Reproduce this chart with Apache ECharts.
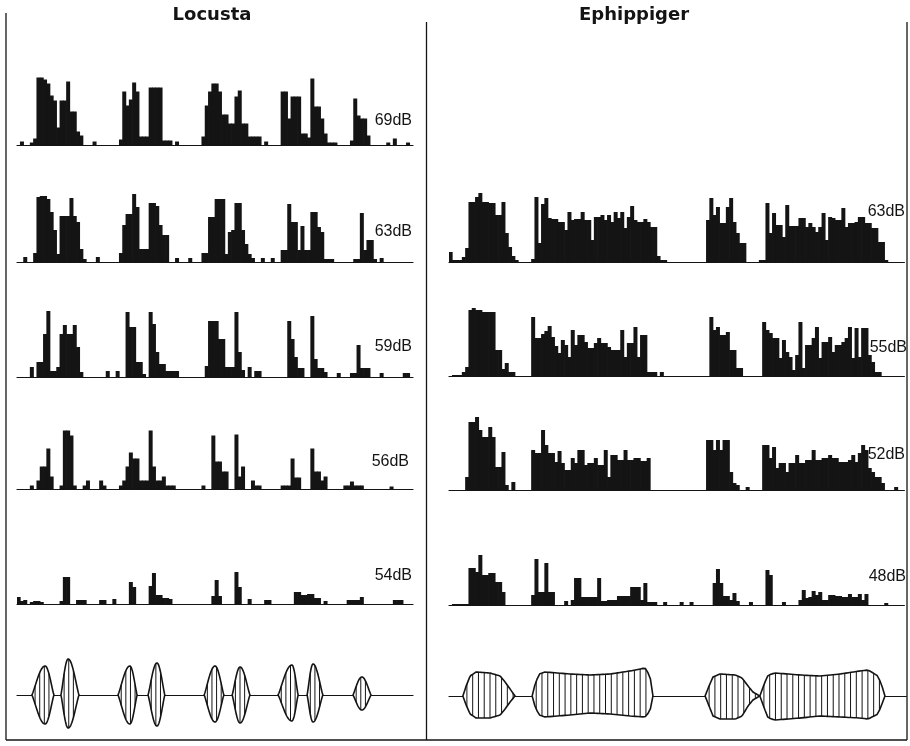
<!DOCTYPE html>
<html>
<head>
<meta charset="utf-8">
<script src="https://cdn.jsdelivr.net/npm/echarts@6/dist/echarts.min.js"></script>
<style>
  html, body { margin: 0; padding: 0; background: #fff; }
  #chart { width: 910px; height: 746px; }
</style>
</head>
<body>
<div id="chart"></div>
<script>
// Species and stimulus intensities
const speciesNames = ['Locusta', 'Ephippiger'];
const locustaLevels = ['69dB', '63dB', '59dB', '56dB', '54dB'];
const ephippigerLevels = ['63dB', '55dB', '52dB', '48dB'];

// Locusta song: response histograms, 120 bins per sweep
const locusta69 = [
  0,4,0,0,3,7,68,68,66,62,50,45,18,45,45,64,34,34,14,10,
  0,0,0,4,0,0,0,0,0,0,0,6,54,40,46,63,54,9,9,9,
  58,58,58,58,5,5,5,0,4,0,0,0,0,0,0,0,9,40,54,62,
  62,54,31,31,22,22,49,55,22,22,9,9,9,9,0,4,0,0,0,0,
  54,54,27,49,49,49,12,12,8,67,39,39,27,12,3,3,3,0,0,0,
  0,5,47,30,27,27,10,0,0,0,0,0,3,0,7,0,0,0,3,0
];
const locusta63 = [
  0,0,5,0,0,9,65,66,66,63,50,32,8,46,46,46,64,46,40,13,
  3,0,0,0,5,0,0,0,0,0,0,9,37,48,48,68,55,13,13,13,
  59,59,56,37,27,27,0,0,4,0,0,0,4,0,0,0,9,9,45,45,
  63,63,63,8,30,32,59,59,32,18,8,4,0,0,4,0,0,4,0,0,
  12,12,58,40,40,12,36,12,12,50,50,35,30,3,3,3,0,0,0,0,
  0,0,3,3,49,12,22,22,3,0,4,0,0,0,0,0,0,0,0,0
];
const locusta59 = [
  0,0,0,0,10,0,15,15,43,66,6,6,10,43,52,43,43,52,30,5,
  0,0,0,0,0,0,0,6,0,0,6,0,0,65,50,50,15,15,3,0,
  65,53,25,13,13,6,6,6,6,0,0,0,0,0,0,0,0,11,56,56,
  56,38,38,10,10,10,65,25,7,0,10,0,6,6,0,0,0,0,0,0,
  0,0,56,38,20,9,9,0,0,61,18,9,9,5,0,0,0,4,0,0,
  0,4,4,32,9,9,9,0,0,0,4,0,0,0,0,0,0,4,4,0
];
const locusta56 = [
  0,0,0,0,4,0,9,23,23,41,13,0,0,4,59,59,54,4,0,0,
  4,9,0,0,0,9,4,0,0,0,0,4,9,23,37,31,31,9,9,9,
  59,23,9,9,13,4,4,4,0,0,0,0,0,0,0,0,4,0,0,54,
  28,28,18,18,0,0,55,13,23,0,0,9,4,4,0,0,0,0,0,0,
  4,4,4,31,12,12,0,0,0,41,18,18,9,13,0,0,0,0,0,4,
  4,8,4,4,4,0,0,0,0,0,0,0,0,3,0,0,0,0,0,0
];
const locusta54 = [
  7,3,4,0,2,3,3,2,0,0,0,0,0,3,27,27,0,0,4,4,
  4,0,0,0,0,4,4,0,0,5,0,0,0,0,22,17,0,0,0,0,
  18,31,9,9,6,6,5,0,0,0,0,0,0,0,0,0,0,0,0,8,
  24,8,0,0,0,0,32,17,0,0,5,0,0,0,0,4,4,0,0,0,
  0,0,0,0,12,12,9,9,10,10,6,6,0,3,0,0,0,0,0,0,
  4,4,4,4,7,0,0,0,0,0,0,0,0,0,4,4,4,0,0,0
];

// Ephippiger song: response histograms, 138 bins per sweep
const ephippiger63 = [
  10,2,2,2,5,14,60,60,65,69,60,60,59,59,47,47,60,29,15,6,
  2,0,0,0,0,3,65,19,58,64,44,43,43,40,40,32,50,42,43,43,
  50,42,42,22,45,45,47,42,47,40,50,44,50,34,45,56,42,40,40,43,
  40,35,35,6,2,2,0,0,0,0,0,0,0,0,0,0,0,0,42,64,
  47,55,39,39,55,64,40,29,19,19,0,0,0,0,2,2,59,29,49,37,
  37,25,57,36,36,36,44,44,35,39,35,30,35,49,22,45,44,42,42,54,
  35,39,39,40,45,45,39,39,34,34,20,20,2,0,0,0,0,0
];
const ephippiger55 = [
  0,1,1,1,4,9,66,68,66,66,64,64,64,64,26,26,7,13,4,4,
  0,0,0,0,0,59,38,38,42,45,50,39,30,23,36,31,19,46,31,41,
  41,34,28,28,33,38,33,33,29,26,26,26,46,19,33,33,49,19,41,41,
  4,4,4,0,4,0,0,0,0,0,0,0,0,0,0,0,0,0,0,59,
  46,49,41,41,44,26,26,8,8,0,0,0,0,0,0,54,46,43,38,38,
  18,36,24,19,6,21,54,8,31,31,38,49,18,34,34,39,24,31,31,34,
  38,49,18,48,19,48,48,21,14,4,4,0,0,0,0,0,0,0
];
const ephippiger52 = [
  0,0,0,0,0,13,68,68,73,60,53,53,63,53,23,23,38,5,0,8,
  0,0,0,0,0,40,37,37,60,45,37,37,28,39,27,20,20,32,27,40,
  40,25,27,27,32,25,25,40,13,35,35,30,30,40,30,30,32,32,29,29,
  32,0,0,0,0,0,0,0,0,0,0,0,0,0,0,0,0,0,50,50,
  40,50,40,50,50,18,7,5,0,0,3,0,0,0,0,45,45,32,43,22,
  27,27,18,27,27,35,27,27,30,30,40,30,30,32,32,35,32,32,28,28,
  28,30,35,28,37,45,40,22,18,13,13,7,0,0,0,3,0,0
];
const ephippiger48 = [
  0,1,1,1,1,1,37,37,33,50,30,30,32,32,23,23,13,0,0,0,
  0,0,0,0,0,10,46,13,13,42,13,13,0,0,0,4,0,5,27,27,
  8,8,8,8,8,27,4,4,5,5,5,9,9,9,9,18,18,18,5,22,
  3,3,3,0,0,3,0,0,0,0,3,0,0,3,0,0,0,0,0,0,
  22,36,22,9,9,5,12,4,0,0,0,3,0,0,0,0,35,30,0,0,
  0,3,0,0,0,0,5,15,7,8,14,10,13,5,5,10,10,9,9,8,
  8,11,8,8,11,5,11,0,0,0,0,0,2,0,0,0,0,0
];

// Locusta syllables (time in bins): [start, peak, end, upper amplitude, lower amplitude]
const locustaSyllables = [
  [4.5, 8.5, 11.2, 29, 29],
  [13.3, 15.5, 18.8, 36, 33],
  [30.6, 34.2, 36.4, 29, 29],
  [39.7, 42.4, 44.8, 32, 31],
  [56.7, 60.0, 62.7, 29, 27],
  [65.2, 67.6, 70.6, 28, 28],
  [79.1, 83.3, 85.2, 30, 26],
  [87.9, 89.7, 92.7, 31, 27],
  [101.8, 104.5, 107.3, 18, 15]
];

// Ephippiger syllable envelopes: [time (bins), upper amplitude, lower amplitude]
const ephippigerSyllable1 = [[4.2,0,0],[5.2,10,9],[6.4,20,18],[8.2,24,22],[12.4,23,22],[15.5,20,19],[17,14,13],[18.5,7,6],[20,0,0]];
const ephippigerSyllable2 = [[25.2,0,0],[26.1,12,11],[27.3,22,19],[29.1,24,21],[36.7,22,19],[42.7,21,17],[48.8,22,18],[54.8,25,20],[59.4,28,21],[60.9,20,15],[61.8,0,0]];
const ephippigerSyllable3 = [[77.6,0,0],[78.8,10,10],[80,19,20],[82.1,22,23],[86.7,21,23],[88.8,18,20],[90.6,10,10],[92.1,4,4],[94.2,0,0]];
const ephippigerSyllable4 = [[94.2,0,0],[95.5,12,12],[96.7,21,22],[98.8,23,24],[106.4,21,22],[112.4,20,20],[118.5,22,21],[124.5,25,22],[127,26,23],[130,20,18],[131.2,10,8],[132.1,0,0]];

// ---------------------------------------------------------------------------
const INK = '#141414';
const ROW_H = 80;
const panels = {
  left:  { x: 17,  w: 396,   bins: 120, envW: 396,   envMax: 120 },
  right: { x: 449, w: 455.4, bins: 138, envW: 457.4, envMax: 138.6 }
};
const locustaBaselines = [145.5, 262, 377, 489.5, 604];
const ephippigerBaselines = [262, 376, 490, 605];
const envelopeCentre = [695, 696];

const grids = [], xAxes = [], yAxes = [], series = [];

function histogramRow(values, panel, base) {
  const gi = grids.length;
  grids.push({ left: panel.x, top: base - ROW_H, width: panel.w, height: ROW_H });
  xAxes.push({
    gridIndex: gi, type: 'category', boundaryGap: true,
    data: values.map((_, i) => i),
    axisLine: { show: true, lineStyle: { color: INK, width: 1.2 } },
    axisTick: { show: false }, axisLabel: { show: false }, splitLine: { show: false }
  });
  yAxes.push({ gridIndex: gi, type: 'value', min: 0, max: ROW_H, show: false });
  // bars slightly wider than a bin so neighbouring bins merge into solid blocks
  series.push({
    type: 'bar', xAxisIndex: gi, yAxisIndex: gi, data: values,
    barWidth: (panel.w / panel.bins) + 0.7, barGap: '-100%', silent: true,
    itemStyle: { color: INK }
  });
}

function envelopeGrid(panel, centre) {
  const gi = grids.length;
  grids.push({ left: panel.x, top: centre - 50, width: panel.envW, height: 100 });
  xAxes.push({
    gridIndex: gi, type: 'value', min: 0, max: panel.envMax,
    axisLine: { show: true, onZero: true, lineStyle: { color: INK, width: 1.2 } },
    axisTick: { show: false }, axisLabel: { show: false }, splitLine: { show: false }
  });
  yAxes.push({ gridIndex: gi, type: 'value', min: -50, max: 50, show: false });
  return gi;
}

// Draws one hatched syllable from an amplitude function
function hatchedShape(api, t0, t1, upper, lower, hatchStep) {
  const N = 48;
  const top = [], bottom = [];
  for (let k = 0; k <= N; k++) {
    const t = t0 + (t1 - t0) * k / N;
    top.push(api.coord([t, upper(t)]));
    bottom.push(api.coord([t, -lower(t)]));
  }
  const children = [{
    type: 'polygon',
    shape: { points: top.concat(bottom.reverse()) },
    style: { fill: '#fff', stroke: INK, lineWidth: 1.6 }
  }];
  for (let t = t0 + hatchStep * 0.7; t < t1 - hatchStep * 0.3; t += hatchStep) {
    const a = api.coord([t, upper(t)]);
    const b = api.coord([t, -lower(t)]);
    children.push({
      type: 'line',
      shape: { x1: a[0], y1: a[1], x2: b[0], y2: b[1] },
      style: { stroke: INK, lineWidth: 1 }
    });
  }
  return { type: 'group', children };
}

// Locusta histograms
[locusta69, locusta63, locusta59, locusta56, locusta54].forEach((values, i) => {
  histogramRow(values, panels.left, locustaBaselines[i]);
});
// Ephippiger histograms
[ephippiger63, ephippiger55, ephippiger52, ephippiger48].forEach((values, i) => {
  histogramRow(values, panels.right, ephippigerBaselines[i]);
});

// Locusta song envelope
const gL = envelopeGrid(panels.left, envelopeCentre[0]);
series.push({
  type: 'custom', xAxisIndex: gL, yAxisIndex: gL, silent: true, z: 5,
  data: locustaSyllables,
  renderItem: (params, api) => {
    const s = api.value(0), p = api.value(1), e = api.value(2);
    const up = api.value(3), dn = api.value(4);
    const shape = t => {
      const u = t <= p ? (t - s) / (p - s) : (e - t) / (e - p);
      return Math.pow(Math.sin(Math.PI / 2 * Math.max(0, Math.min(1, u))), 1.2);
    };
    return hatchedShape(api, s, e, t => up * shape(t), t => dn * shape(t), 1.4);
  }
});

// Ephippiger song envelope
const ephippigerSyllables = [ephippigerSyllable1, ephippigerSyllable2, ephippigerSyllable3, ephippigerSyllable4];
const gR = envelopeGrid(panels.right, envelopeCentre[1]);
series.push({
  type: 'custom', xAxisIndex: gR, yAxisIndex: gR, silent: true, z: 5,
  data: ephippigerSyllables.map((syl, i) => [syl[0][0], syl[syl.length - 1][0], i]),
  renderItem: (params, api) => {
    const prof = ephippigerSyllables[api.value(2)];
    const interp = col => t => {
      for (let k = 1; k < prof.length; k++) {
        if (t <= prof[k][0]) {
          const a = prof[k - 1], b = prof[k];
          const f = (t - a[0]) / (b[0] - a[0]);
          return a[col] + (b[col] - a[col]) * f;
        }
      }
      return 0;
    };
    return hatchedShape(api, api.value(0), api.value(1), interp(1), interp(2), 1.75);
  }
});

// Frame, titles and level labels
const labelFont = '16px "Liberation Sans", sans-serif';
const titleFont = 'bold 18px "DejaVu Sans", sans-serif';
function text(str, x, y, font, align) {
  return {
    type: 'text', x, y, silent: true,
    style: { text: str, font, fill: INK, textAlign: align, align, textVerticalAlign: 'middle', verticalAlign: 'middle' }
  };
}
function rule(x1, y1, x2, y2) {
  return { type: 'line', silent: true, shape: { x1, y1, x2, y2 }, style: { stroke: INK, lineWidth: 1.3 } };
}
const locustaLabelPos = [[412, 121], [412, 232], [412, 347], [409, 462], [412, 576]];
const ephippigerLabelPos = [[905, 212], [907, 348], [905, 455], [906, 577]];

const graphics = [
  rule(6, 13, 6, 740),
  rule(426.5, 22, 426.5, 740),
  rule(907, 22, 907, 740),
  rule(6, 740, 907, 740),
  text(speciesNames[0], 212, 15, titleFont, 'center'),
  text(speciesNames[1], 634, 15, titleFont, 'center')
];
locustaLevels.forEach((lv, i) => graphics.push(text(lv, locustaLabelPos[i][0], locustaLabelPos[i][1], labelFont, 'right')));
ephippigerLevels.forEach((lv, i) => graphics.push(text(lv, ephippigerLabelPos[i][0], ephippigerLabelPos[i][1], labelFont, 'right')));

const chart = echarts.init(document.getElementById('chart'), null, { renderer: 'canvas' });
chart.setOption({
  animation: false,
  backgroundColor: '#fff',
  grid: grids,
  xAxis: xAxes,
  yAxis: yAxes,
  series,
  graphic: graphics
});
</script>
</body>
</html>
